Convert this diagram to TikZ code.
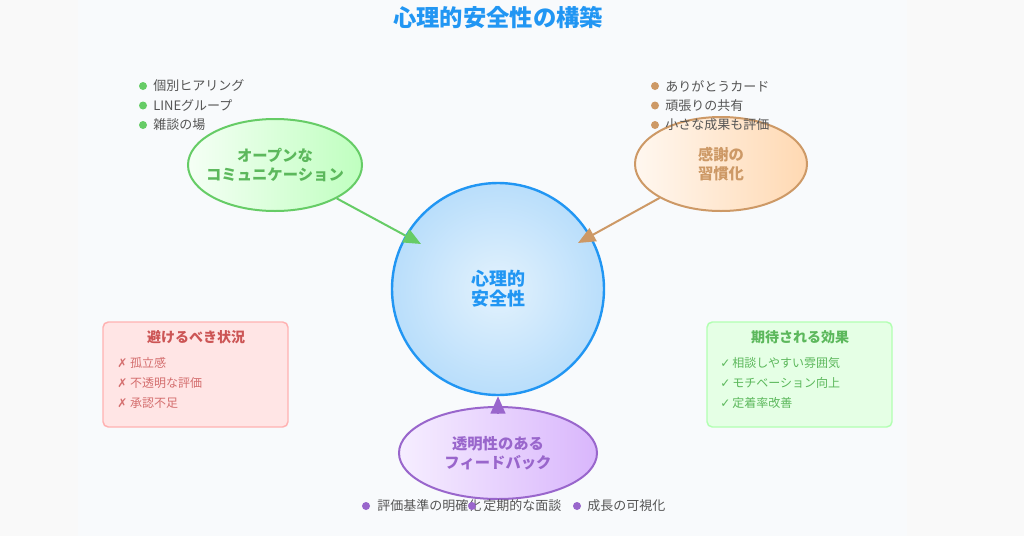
\documentclass[tikz,border=0pt]{standalone}
\usepackage{fontspec}
\setmainfont{Noto Sans CJK JP}
\newfontfamily\symfont{DejaVu Sans}
\usetikzlibrary{shapes.geometric,arrows.meta}
\definecolor{pageback}{HTML}{F9F9F9}
\definecolor{panelback}{HTML}{F8FAFC}
\definecolor{coreblue}{HTML}{2196F3}
\definecolor{coreinner}{HTML}{E3F2FD}
\definecolor{coreouter}{HTML}{B9DEFB}
\definecolor{opengreen}{HTML}{66CC66}
\definecolor{opentext}{HTML}{5CB85C}
\definecolor{thankbrown}{HTML}{CD9966}
\definecolor{fbpurple}{HTML}{9966CC}
\definecolor{fbleft}{HTML}{F6EEFF}
\definecolor{fbright}{HTML}{D9B6FC}
\definecolor{bulletgray}{HTML}{555555}
\definecolor{avoidred}{HTML}{CC5555}
\begin{document}
\begin{tikzpicture}[x=0.75pt, y=-0.75pt, auto,
  topic node/.style={ellipse,draw,line width=1.5pt,inner ysep=0pt,inner xsep=-6pt,align=center,font=\bfseries\fontsize{11.5}{14.25}\selectfont},
  core node/.style={circle,draw=coreblue,line width=1.8pt,inner color=coreinner,outer color=coreouter,minimum size=159pt,align=center,text=coreblue,font=\bfseries\fontsize{13.5}{15}\selectfont},
  box node/.style={rectangle,rounded corners=4pt,line width=1.1pt,minimum width=138.75pt,minimum height=78.75pt},
  box title/.style={font=\bfseries\fontsize{10.5}{12}\selectfont},
  box item/.style={anchor=west,inner sep=0pt,font=\fontsize{9}{11}\selectfont},
  item/.style={anchor=west,inner sep=0pt,text=bulletgray,font=\fontsize{9.75}{12}\selectfont},
  dot/.style={circle,inner sep=0pt,minimum size=6pt},
  pointer/.style={line width=1.5pt,-{Triangle[length=13pt,width=11pt]}}]
% background
\fill[pageback] (0,0) rectangle (1024,536);
\fill[panelback] (78,0) rectangle (907,536);
\node[text=coreblue,font=\bfseries\fontsize{17.5}{19}\selectfont] (title) at (498,18) {心理的安全性の構築};
\begin{scope}
\node[core node] (core) at (498,289) {心理的\\安全性};
\node[topic node,draw=opengreen,left color=green!4,right color=green!25,text=opentext,minimum width=130.5pt,minimum height=69pt] (open) at (275,165) {オープンな\\コミュニケーション};
\node[topic node,draw=thankbrown,left color=orange!6,right color=orange!30,text=thankbrown,minimum width=129pt,minimum height=70.5pt] (thanks) at (721,164) {感謝の\\習慣化};
\node[topic node,draw=fbpurple,left color=fbleft,right color=fbright,text=fbpurple,minimum width=148.5pt,minimum height=69pt] (fb) at (498,453) {透明性のある\\フィードバック};
\end{scope}
% bullet lists
\node[dot,fill=opengreen] (g1) at (143,86) {};
\node[item] (gt1) at (153,86) {個別ヒアリング};
\node[dot,fill=opengreen] (g2) at (143,105.5) {};
\node[item] (gt2) at (153,105.5) {LINEグループ};
\node[dot,fill=opengreen] (g3) at (143,125) {};
\node[item] (gt3) at (153,125) {雑談の場};
\node[dot,fill=thankbrown] (t1) at (655,86) {};
\node[item] (tt1) at (665,86) {ありがとうカード};
\node[dot,fill=thankbrown] (t2) at (655,105.5) {};
\node[item] (tt2) at (665,105.5) {頑張りの共有};
\node[dot,fill=thankbrown] (t3) at (655,125) {};
\node[item] (tt3) at (665,125) {小さな成果も評価};
\node[dot,fill=fbpurple] (f1) at (366,506) {};
\node[item] (ft1) at (377,506) {評価基準の明確化};
\node[dot,fill=fbpurple] (f2) at (472,506) {};
\node[item] (ft2) at (483,506) {定期的な面談};
\node[dot,fill=fbpurple] (f3) at (577,506) {};
\node[item] (ft3) at (587,506) {成長の可視化};
% side boxes
\node[box node,draw=red!30,fill=red!10] (avoid) at (195.5,374.5) {};
\node[box title,text=avoidred] (avoidtitle) at (196,337) {避けるべき状況};
\node[box item,text=avoidred!85] (a1) at (117,363) {{\symfont ✗} 孤立感};
\node[box item,text=avoidred!85] (a2) at (117,383) {{\symfont ✗} 不透明な評価};
\node[box item,text=avoidred!85] (a3) at (117,403) {{\symfont ✗} 承認不足};
\node[box node,draw=green!30,fill=green!10] (effect) at (799.5,374.5) {};
\node[box title,text=opentext] (effecttitle) at (800,337) {期待される効果};
\node[box item,text=opentext] (e1) at (720,363) {{\symfont ✓}\,相談しやすい雰囲気};
\node[box item,text=opentext] (e2) at (720,383) {{\symfont ✓}\,モチベーション向上};
\node[box item,text=opentext] (e3) at (720,403) {{\symfont ✓}\,定着率改善};
% arrows
\coordinate (tipA) at (421,244);
\coordinate (tipB) at (578,243);
\begin{scope}
\draw[pointer,opengreen] (open) -- (tipA);
\draw[pointer,thankbrown] (thanks) -- (tipB);
\draw[pointer,fbpurple] ([yshift=-5pt]fb.north) -- (core.south);
\end{scope}
\end{tikzpicture}
\end{document}
